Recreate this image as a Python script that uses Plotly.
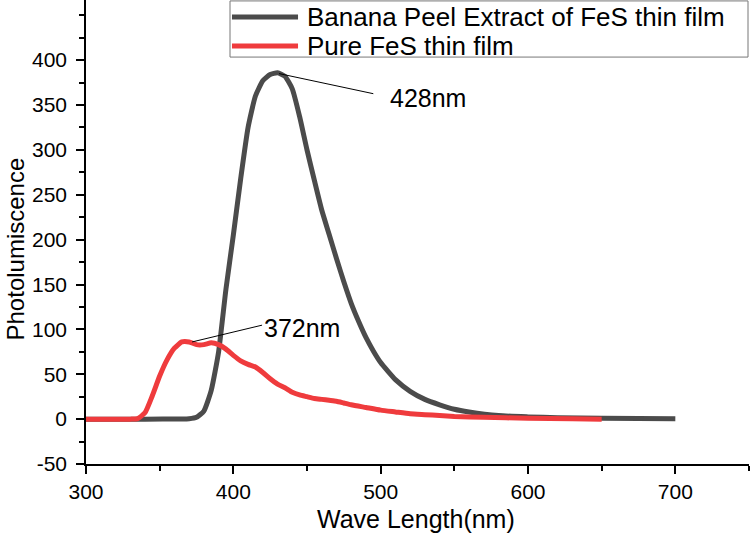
import plotly.graph_objects as go

# ---- data ----
wl_banana = [300, 340, 365, 370, 375, 380, 385, 390, 395, 400, 405, 410, 415, 420, 425,
             430, 435, 440, 445, 450, 455, 460, 465, 470, 475, 480, 485, 490, 495, 500,
             510, 520, 530, 540, 550, 560, 580, 600, 620, 650, 700]
pl_banana = [0, 0, 0.1, 0.4, 2, 9, 32, 75, 145, 205, 268, 325, 360, 377, 384,
             386, 382, 368, 337, 300, 266, 233, 206, 179, 153, 129, 109, 91, 76, 63,
             44, 31, 22, 16, 11, 8, 4, 2.5, 1.5, 1, 0.5]

wl_pure = [300, 330, 335, 340, 345, 350, 355, 360, 365, 370, 375, 380, 385, 390, 395,
           400, 405, 410, 415, 420, 425, 430, 435, 440, 445, 450, 455, 460, 465, 470,
           475, 480, 490, 500, 510, 520, 530, 540, 550, 570, 600, 630, 650]
pl_pure = [0, 0, 0.5, 7, 26, 48, 66, 79, 86, 86, 83, 83, 85, 83, 78,
           71, 65, 61, 58, 52, 45, 39, 35, 30, 27, 25, 23, 22, 21, 20,
           18, 16, 13, 10, 8, 6, 5, 4, 3, 2, 1, 0.3, 0]

series_names = ["Banana Peel Extract of FeS thin film", "Pure FeS thin film"]
series_colors = ["#4b4b4b", "#ef3b3d"]
peak_labels = ["428nm", "372nm"]
x_ticks = [300, 400, 500, 600, 700]
y_ticks = [-50, 0, 50, 100, 150, 200, 250, 300, 350, 400]
y_tick_text = ["-50", "0", "50", "100", "150", "200", "250", "300", "350", "400"]

FONT = "Liberation Sans, Arial, sans-serif"

fig = go.Figure()
fig.add_trace(go.Scatter(x=wl_banana, y=pl_banana, mode="lines", name=series_names[0],
                         showlegend=False,
                         line=dict(color=series_colors[0], width=5, shape="spline", smoothing=0.5)))
fig.add_trace(go.Scatter(x=wl_pure, y=pl_pure, mode="lines", name=series_names[1],
                         showlegend=False,
                         line=dict(color=series_colors[1], width=5, shape="spline", smoothing=0.5)))

# leader lines + peak labels
fig.add_shape(type="line", x0=431, y0=385, x1=495, y1=362.6, xref="x", yref="y",
              line=dict(color="black", width=1))
fig.add_shape(type="line", x0=372, y0=86, x1=419.5, y1=104.7, xref="x", yref="y",
              line=dict(color="black", width=1))
fig.add_annotation(x=505, y=357.7, xref="x", yref="y", text=peak_labels[0], showarrow=False,
                   xanchor="left", yanchor="middle", font=dict(size=25, color="black", family=FONT))
fig.add_annotation(x=419.7, y=101.4, xref="x", yref="y", text=peak_labels[1], showarrow=False,
                   xanchor="left", yanchor="middle", font=dict(size=25, color="black", family=FONT))

# legend box (drawn in paper coordinates)
fig.add_shape(type="rect", xref="paper", yref="paper", x0=0.2172, x1=0.9985, y0=0.877, y1=0.998,
              line=dict(color="#777777", width=1), fillcolor="white", layer="above")
legend_rows = [0.9634, 0.9009]
for name, color, yr in zip(series_names, series_colors, legend_rows):
    fig.add_shape(type="line", xref="paper", yref="paper", x0=0.2202, x1=0.3198, y0=yr, y1=yr,
                  line=dict(color=color, width=5), layer="above")
    fig.add_annotation(x=0.3303, y=yr, xref="paper", yref="paper", text=name, showarrow=False,
                       xanchor="left", yanchor="middle",
                       font=dict(size=26, color="black", family=FONT))

# axis titles
fig.add_annotation(x=0.4977, y=-0.153, xref="paper", yref="paper", text="Wave Length(nm)",
                   showarrow=False, xanchor="center", yanchor="bottom",
                   font=dict(size=25, color="black", family=FONT))
fig.add_annotation(x=-0.1297, y=0.4634, xref="paper", yref="paper", text="Photolumiscence",
                   showarrow=False, textangle=-90, xanchor="left", yanchor="middle",
                   font=dict(size=24, color="black", family=FONT))

axis_common = dict(showline=True, linecolor="black", linewidth=1.5, ticks="outside",
                   ticklen=8, tickwidth=1.5, tickcolor="black", showgrid=False, zeroline=False,
                   automargin=False,
                   tickfont=dict(size=21, color="black", family=FONT))

fig.update_xaxes(range=[300, 750], tickvals=x_ticks, **axis_common,
                 minor=dict(dtick=50, tick0=300, ticks="outside", ticklen=5, tickwidth=1.5,
                            tickcolor="black"))
fig.update_yaxes(range=[-50, 467], tickvals=y_ticks, ticktext=y_tick_text, **axis_common,
                 ticklabelstandoff=5,
                 minor=dict(dtick=25, tick0=0, ticks="outside", ticklen=5, tickwidth=1.5,
                            tickcolor="black"))

fig.update_layout(
    width=751, height=535,
    margin=dict(l=86, r=2, t=0, b=71),
    paper_bgcolor="white", plot_bgcolor="white",
    font=dict(family=FONT, color="black"),
    showlegend=False,
)

fig.write_html("out.html", config={"displayModeBar": False},
               post_script="document.body.style.margin='0';")
